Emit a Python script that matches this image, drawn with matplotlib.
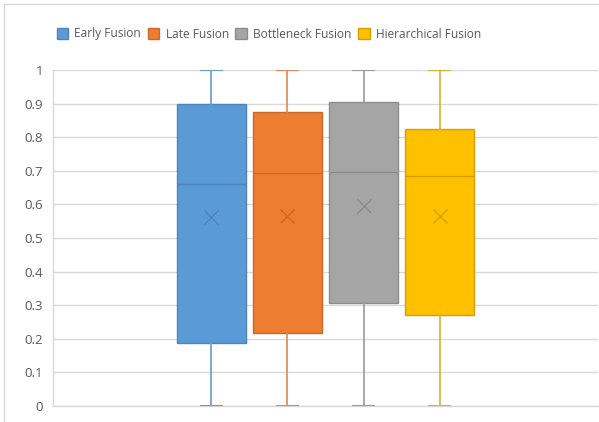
import matplotlib
matplotlib.use("Agg")
import matplotlib.pyplot as plt
from matplotlib.patches import Patch
from matplotlib.lines import Line2D

# Fusion strategy score distributions (five-number summary plus mean)
series = ["Early Fusion", "Late Fusion", "Bottleneck Fusion", "Hierarchical Fusion"]
mins = [0.0, 0.0, 0.0, 0.0]
q1s = [0.188, 0.218, 0.307, 0.270]
medians = [0.660, 0.694, 0.696, 0.686]
q3s = [0.899, 0.875, 0.906, 0.825]
maxs = [1.0, 1.0, 1.0, 1.0]
means = [0.563, 0.565, 0.595, 0.565]
y_ticks = [0, 0.1, 0.2, 0.3, 0.4, 0.5, 0.6, 0.7, 0.8, 0.9, 1.0]
y_tick_labels = ["0", "0.1", "0.2", "0.3", "0.4", "0.5", "0.6", "0.7", "0.8", "0.9", "1"]

fill_colors = ["#5B9BD5", "#ED7D31", "#A5A5A5", "#FFC000"]
edge_colors = ["#4A85BE", "#C9692A", "#8C8C8C", "#D4A000"]
whisker_colors = ["#6A9ACB", "#D98A57", "#9A9A9A", "#DDAF30"]

plt.rcParams["font.family"] = ["Open Sans", "DejaVu Sans"]

fig = plt.figure(figsize=(5.99, 4.22), dpi=100)
fig.patch.set_facecolor("white")
ax = fig.add_axes([53 / 599, 1 - 406 / 422, (598 - 53) / 599, (406 - 70) / 422])

positions = list(range(len(series)))
box_w = 0.92
for i, name in enumerate(series):
    stats = [dict(whislo=mins[i], q1=q1s[i], med=medians[i], q3=q3s[i],
                  whishi=maxs[i], mean=means[i], fliers=[], label=name)]
    ax.bxp(stats, positions=[positions[i]], widths=box_w, patch_artist=True,
           showmeans=True, showfliers=False,
           boxprops=dict(facecolor=fill_colors[i], edgecolor=edge_colors[i], linewidth=1.0),
           medianprops=dict(color=edge_colors[i], linewidth=1.0),
           whiskerprops=dict(color=whisker_colors[i], linewidth=1.2),
           capprops=dict(color=whisker_colors[i], linewidth=1.5),
           capwidths=0.28,
           meanprops=dict(marker="x", markeredgecolor=edge_colors[i],
                          markersize=10, markeredgewidth=1.0),
           zorder=3)

ax.set_xlim(-2.085, 5.085)
ax.set_ylim(0, 1)
ax.set_yticks(y_ticks)
ax.set_yticklabels(y_tick_labels)
ax.set_xticks([])
ax.tick_params(axis="y", length=0, pad=7, labelsize=9.5, labelcolor="#595959")
ax.yaxis.grid(True, color="#D9D9D9", linewidth=1.0, zorder=0)
ax.set_axisbelow(True)
for side in ["top", "right"]:
    ax.spines[side].set_visible(False)
for side in ["left", "bottom"]:
    ax.spines[side].set_color("#D9D9D9")
    ax.spines[side].set_linewidth(1.0)

handles = [Patch(facecolor=fill_colors[i], edgecolor=edge_colors[i], linewidth=1.0)
           for i in range(len(series))]
fig.legend(handles, series, loc="center", bbox_to_anchor=(269 / 599, 1 - 34 / 422),
           ncol=4, frameon=False, fontsize=8.6, labelcolor="#595959",
           handlelength=0.95, handleheight=0.95, handletextpad=0.55, columnspacing=0.55)

# chart-area border along the top and left edges
fig.add_artist(Line2D([4 / 599, 1.0], [1 - 3.5 / 422, 1 - 3.5 / 422],
                      transform=fig.transFigure, color="#D9D9D9", linewidth=1.0))
fig.add_artist(Line2D([4 / 599, 4 / 599], [0.0, 1 - 3.5 / 422],
                      transform=fig.transFigure, color="#D9D9D9", linewidth=1.0))

fig.savefig("out.png", dpi=100, facecolor="white")
